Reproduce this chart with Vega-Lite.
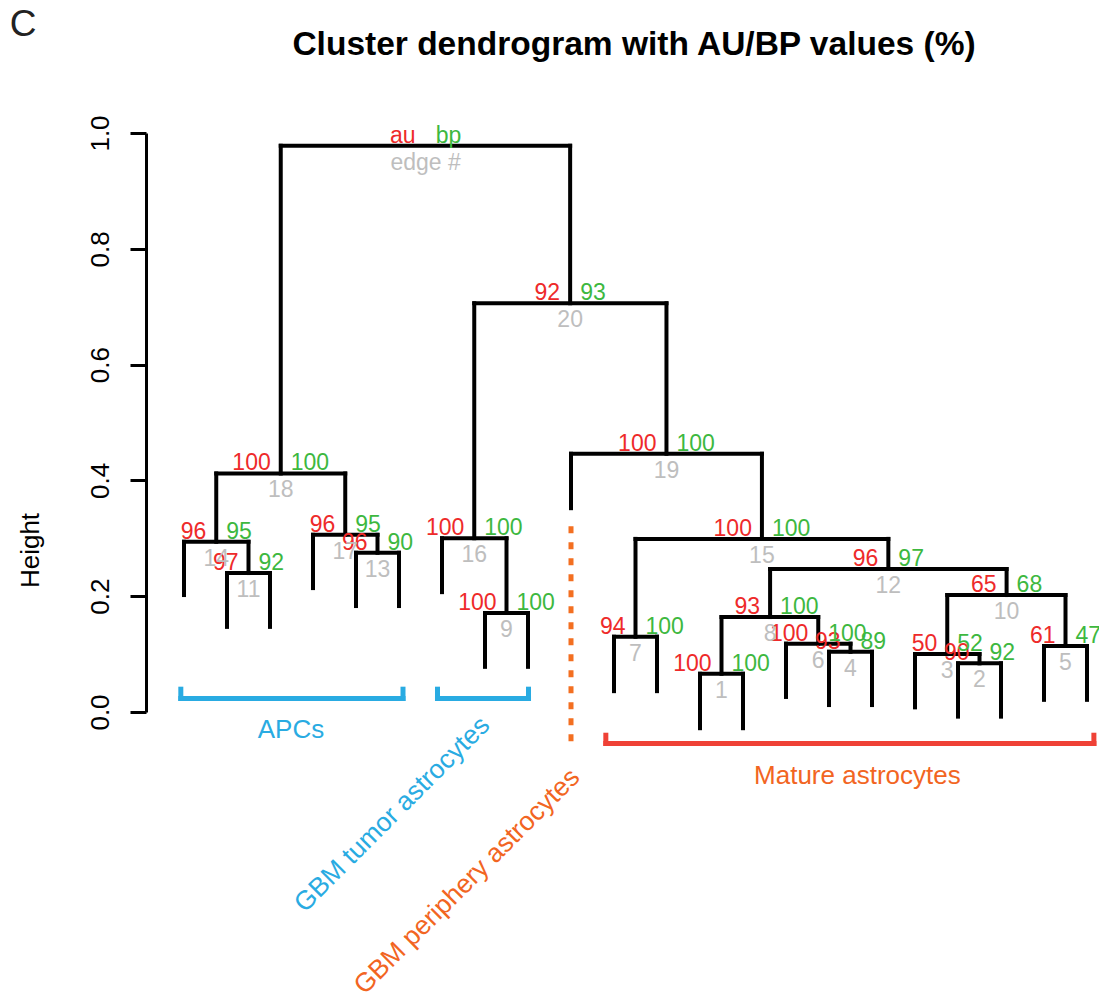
{
  "$schema": "https://vega.github.io/schema/vega-lite/v6.json",
  "width": 953,
  "height": 579,
  "autosize": {"type": "none"},
  "padding": {"left": 146, "top": 133, "right": 0, "bottom": 281},
  "background": "white",
  "title": {"text": "Cluster dendrogram with AU/BP values (%)", "fontSize": 33.5, "fontWeight": "bold", "font": "Liberation Sans", "color": "black", "anchor": "middle", "frame": "group", "dx": 11.5, "offset": 0, "dy": 82, "baseline": "alphabetic"},
  "config": {"view": {"stroke": null}, "font": "Liberation Sans"},
  "datasets": {
    "nodes": [
      {"edge": "1", "au": "100", "bp": "100", "x": 13.5, "h": 0.066, "lx": 13, "rx": 14, "lh": -0.028, "rh": -0.028},
      {"edge": "2", "au": "90", "bp": "92", "x": 19.5, "h": 0.084, "lx": 19, "rx": 20, "lh": -0.008, "rh": -0.008},
      {"edge": "3", "au": "50", "bp": "52", "x": 18.75, "h": 0.100, "lx": 18, "rx": 19.5, "lh": 0.008, "rh": 0.084},
      {"edge": "4", "au": "93", "bp": "89", "x": 16.5, "h": 0.104, "lx": 16, "rx": 17, "lh": 0.012, "rh": 0.012},
      {"edge": "5", "au": "61", "bp": "47", "x": 21.5, "h": 0.114, "lx": 21, "rx": 22, "lh": 0.021, "rh": 0.021},
      {"edge": "6", "au": "100", "bp": "100", "x": 15.75, "h": 0.118, "lx": 15, "rx": 16.5, "lh": 0.026, "rh": 0.104},
      {"edge": "7", "au": "94", "bp": "100", "x": 11.5, "h": 0.130, "lx": 11, "rx": 12, "lh": 0.036, "rh": 0.036},
      {"edge": "8", "au": "93", "bp": "100", "x": 14.63, "h": 0.164, "lx": 13.5, "rx": 15.75, "lh": 0.066, "rh": 0.118},
      {"edge": "9", "au": "100", "bp": "100", "x": 8.5, "h": 0.171, "lx": 8, "rx": 9, "lh": 0.078, "rh": 0.078},
      {"edge": "10", "au": "65", "bp": "68", "x": 20.13, "h": 0.202, "lx": 18.75, "rx": 21.5, "lh": 0.100, "rh": 0.114},
      {"edge": "11", "au": "97", "bp": "92", "x": 2.5, "h": 0.240, "lx": 2, "rx": 3, "lh": 0.147, "rh": 0.147},
      {"edge": "12", "au": "96", "bp": "97", "x": 17.38, "h": 0.247, "lx": 14.63, "rx": 20.13, "lh": 0.164, "rh": 0.202},
      {"edge": "13", "au": "96", "bp": "90", "x": 5.5, "h": 0.275, "lx": 5, "rx": 6, "lh": 0.183, "rh": 0.183},
      {"edge": "14", "au": "96", "bp": "95", "x": 1.75, "h": 0.294, "lx": 1, "rx": 2.5, "lh": 0.202, "rh": 0.240},
      {"edge": "15", "au": "100", "bp": "100", "x": 14.44, "h": 0.299, "lx": 11.5, "rx": 17.38, "lh": 0.130, "rh": 0.247},
      {"edge": "16", "au": "100", "bp": "100", "x": 7.75, "h": 0.300, "lx": 7, "rx": 8.5, "lh": 0.207, "rh": 0.171},
      {"edge": "17", "au": "96", "bp": "95", "x": 4.75, "h": 0.306, "lx": 4, "rx": 5.5, "lh": 0.214, "rh": 0.275},
      {"edge": "18", "au": "100", "bp": "100", "x": 3.25, "h": 0.412, "lx": 1.75, "rx": 4.75, "lh": 0.294, "rh": 0.306},
      {"edge": "19", "au": "100", "bp": "100", "x": 12.22, "h": 0.446, "lx": 10, "rx": 14.44, "lh": 0.352, "rh": 0.299},
      {"edge": "20", "au": "92", "bp": "93", "x": 9.98, "h": 0.706, "lx": 7.75, "rx": 12.22, "lh": 0.300, "rh": 0.446},
      {"edge": "edge #", "au": "au", "bp": "bp", "x": 6.62, "h": 0.978, "lx": 3.25, "rx": 9.98, "lh": 0.412, "rh": 0.706}
    ],
    "brackets": [
      {"group": "APCs", "x1": 0.926, "x2": 6.093, "top": 0.0394, "bottom": 0.0233},
      {"group": "GBM tumor astrocytes", "x1": 6.895, "x2": 9.012, "top": 0.0394, "bottom": 0.0233},
      {"group": "Mature astrocytes", "x1": 10.81, "x2": 22.16, "top": -0.0401, "bottom": -0.0544}
    ],
    "flatLabels": [
      {"label": "APCs", "x": 3.488, "h": -0.0449},
      {"label": "Mature astrocytes", "x": 16.66, "h": -0.1244}
    ],
    "diagLabels": [
      {"label": "GBM tumor astrocytes", "x": 8.14, "h": -0.0259},
      {"label": "GBM periphery astrocytes", "x": 10.233, "h": -0.1157}
    ],
    "periphery": [
      {"x": 10, "top": 0.321, "bottom": -0.060}
    ],
    "panel": [
      {"label": "C", "x": -2.744, "h": 1.1667}
    ]
  },
  "layer": [
    {
      "data": {"name": "nodes"},
      "mark": {"type": "rule", "color": "black", "strokeWidth": 4, "strokeCap": "square"},
      "encoding": {
        "x": {"field": "lx", "type": "quantitative", "scale": {"domain": [0.1163, 22.279], "nice": false, "zero": false}, "axis": null},
        "x2": {"field": "rx"},
        "y": {"field": "h", "type": "quantitative", "scale": {"domain": [0, 1], "nice": false, "zero": false},
          "axis": {"title": "Height", "values": [0, 0.2, 0.4, 0.6, 0.8, 1], "format": ".1f", "grid": false,
            "domainColor": "black", "domainWidth": 3, "tickColor": "black", "tickWidth": 3, "tickSize": 16,
            "labelFontSize": 26, "labelColor": "black", "labelAngle": 270, "labelAlign": "center", "labelBaseline": "alphabetic",
            "labelPadding": 22, "labelFlush": false, "labelOverlap": false, "labelFont": "Liberation Sans",
            "titleFontSize": 26, "titleFontWeight": "normal", "titleColor": "black", "titleFont": "Liberation Sans",
            "titleAngle": 270, "titleAlign": "center", "titleBaseline": "alphabetic", "titleX": -108, "titleY": 417}}
      }
    },
    {
      "data": {"name": "nodes"},
      "mark": {"type": "rule", "color": "black", "strokeWidth": 4, "strokeCap": "square"},
      "encoding": {
        "x": {"field": "lx", "type": "quantitative", "scale": {"domain": [0.1163, 22.279], "nice": false, "zero": false}, "axis": null},
        "y": {"field": "h", "type": "quantitative", "scale": {"domain": [0, 1], "nice": false, "zero": false}},
        "y2": {"field": "lh"}
      }
    },
    {
      "data": {"name": "nodes"},
      "mark": {"type": "rule", "color": "black", "strokeWidth": 4, "strokeCap": "square"},
      "encoding": {
        "x": {"field": "rx", "type": "quantitative", "scale": {"domain": [0.1163, 22.279], "nice": false, "zero": false}, "axis": null},
        "y": {"field": "h", "type": "quantitative", "scale": {"domain": [0, 1], "nice": false, "zero": false}},
        "y2": {"field": "rh"}
      }
    },
    {
      "data": {"name": "nodes"},
      "mark": {"type": "text", "color": "#EE2A2A", "fontSize": 23, "align": "right", "baseline": "alphabetic", "dx": -10, "dy": -3},
      "encoding": {
        "x": {"field": "x", "type": "quantitative", "scale": {"domain": [0.1163, 22.279], "nice": false, "zero": false}, "axis": null},
        "y": {"field": "h", "type": "quantitative", "scale": {"domain": [0, 1], "nice": false, "zero": false}},
        "text": {"field": "au"}
      }
    },
    {
      "data": {"name": "nodes"},
      "mark": {"type": "text", "color": "#3DB83F", "fontSize": 23, "align": "left", "baseline": "alphabetic", "dx": 10, "dy": -3},
      "encoding": {
        "x": {"field": "x", "type": "quantitative", "scale": {"domain": [0.1163, 22.279], "nice": false, "zero": false}, "axis": null},
        "y": {"field": "h", "type": "quantitative", "scale": {"domain": [0, 1], "nice": false, "zero": false}},
        "text": {"field": "bp"}
      }
    },
    {
      "data": {"name": "nodes"},
      "mark": {"type": "text", "color": "#BEBEBE", "fontSize": 23, "align": "center", "baseline": "alphabetic", "dy": 24},
      "encoding": {
        "x": {"field": "x", "type": "quantitative", "scale": {"domain": [0.1163, 22.279], "nice": false, "zero": false}, "axis": null},
        "y": {"field": "h", "type": "quantitative", "scale": {"domain": [0, 1], "nice": false, "zero": false}},
        "text": {"field": "edge"}
      }
    },
    {
      "data": {"name": "brackets"},
      "mark": {"type": "rule", "strokeWidth": 5, "strokeCap": "square"},
      "encoding": {
        "x": {"field": "x1", "type": "quantitative", "scale": {"domain": [0.1163, 22.279], "nice": false, "zero": false}, "axis": null},
        "y": {"field": "top", "type": "quantitative", "scale": {"domain": [0, 1], "nice": false, "zero": false}},
        "y2": {"field": "bottom"},
        "stroke": {"field": "group", "type": "nominal", "scale": {"domain": ["APCs", "GBM tumor astrocytes", "Mature astrocytes"], "range": ["#29ABE2", "#29ABE2", "#EF4136"]}, "legend": null}
      }
    },
    {
      "data": {"name": "brackets"},
      "mark": {"type": "rule", "strokeWidth": 5, "strokeCap": "square"},
      "encoding": {
        "x": {"field": "x2", "type": "quantitative", "scale": {"domain": [0.1163, 22.279], "nice": false, "zero": false}, "axis": null},
        "y": {"field": "top", "type": "quantitative", "scale": {"domain": [0, 1], "nice": false, "zero": false}},
        "y2": {"field": "bottom"},
        "stroke": {"field": "group", "type": "nominal", "scale": {"domain": ["APCs", "GBM tumor astrocytes", "Mature astrocytes"], "range": ["#29ABE2", "#29ABE2", "#EF4136"]}, "legend": null}
      }
    },
    {
      "data": {"name": "brackets"},
      "mark": {"type": "rule", "strokeWidth": 5, "strokeCap": "square"},
      "encoding": {
        "x": {"field": "x1", "type": "quantitative", "scale": {"domain": [0.1163, 22.279], "nice": false, "zero": false}, "axis": null},
        "x2": {"field": "x2"},
        "y": {"field": "bottom", "type": "quantitative", "scale": {"domain": [0, 1], "nice": false, "zero": false}},
        "stroke": {"field": "group", "type": "nominal", "scale": {"domain": ["APCs", "GBM tumor astrocytes", "Mature astrocytes"], "range": ["#29ABE2", "#29ABE2", "#EF4136"]}, "legend": null}
      }
    },
    {
      "data": {"name": "periphery"},
      "mark": {"type": "rule", "color": "#F36F21", "strokeWidth": 5, "strokeDash": [7, 9], "strokeCap": "butt"},
      "encoding": {
        "x": {"field": "x", "type": "quantitative", "scale": {"domain": [0.1163, 22.279], "nice": false, "zero": false}, "axis": null},
        "y": {"field": "top", "type": "quantitative", "scale": {"domain": [0, 1], "nice": false, "zero": false}},
        "y2": {"field": "bottom"}
      }
    },
    {
      "data": {"name": "flatLabels"},
      "mark": {"type": "text", "fontSize": 26, "align": "center", "baseline": "alphabetic"},
      "encoding": {
        "x": {"field": "x", "type": "quantitative", "scale": {"domain": [0.1163, 22.279], "nice": false, "zero": false}, "axis": null},
        "y": {"field": "h", "type": "quantitative", "scale": {"domain": [0, 1], "nice": false, "zero": false}},
        "text": {"field": "label"},
        "fill": {"field": "label", "type": "nominal", "scale": {"domain": ["APCs", "GBM tumor astrocytes", "GBM periphery astrocytes", "Mature astrocytes"], "range": ["#29ABE2", "#29ABE2", "#F26522", "#F26522"]}, "legend": null}
      }
    },
    {
      "data": {"name": "diagLabels"},
      "mark": {"type": "text", "fontSize": 26.5, "align": "right", "baseline": "alphabetic", "angle": -45},
      "encoding": {
        "x": {"field": "x", "type": "quantitative", "scale": {"domain": [0.1163, 22.279], "nice": false, "zero": false}, "axis": null},
        "y": {"field": "h", "type": "quantitative", "scale": {"domain": [0, 1], "nice": false, "zero": false}},
        "text": {"field": "label"},
        "fill": {"field": "label", "type": "nominal", "scale": {"domain": ["APCs", "GBM tumor astrocytes", "GBM periphery astrocytes", "Mature astrocytes"], "range": ["#29ABE2", "#29ABE2", "#F26522", "#F26522"]}, "legend": null}
      }
    },
    {
      "data": {"name": "panel"},
      "mark": {"type": "text", "fontSize": 37, "align": "center", "baseline": "alphabetic", "color": "#222222"},
      "encoding": {
        "x": {"field": "x", "type": "quantitative", "scale": {"domain": [0.1163, 22.279], "nice": false, "zero": false}, "axis": null},
        "y": {"field": "h", "type": "quantitative", "scale": {"domain": [0, 1], "nice": false, "zero": false}},
        "text": {"field": "label"}
      }
    }
  ]
}
